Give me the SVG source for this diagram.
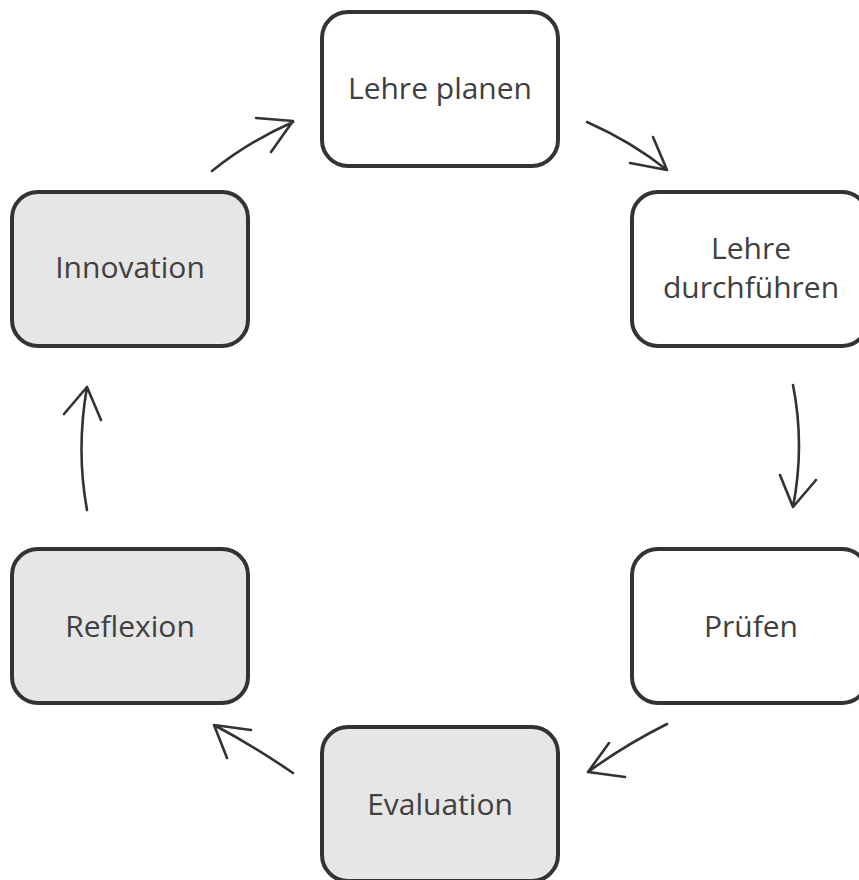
<svg xmlns="http://www.w3.org/2000/svg" width="859" height="880" viewBox="0 0 859 880">
<style>
.box{stroke:#333;stroke-width:4;}
.w{fill:#fff;}
.g{fill:#e6e6e6;}
.t{font-family:"Open Sans","DejaVu Sans",sans-serif;font-size:30px;fill:#404040;text-anchor:middle;}
.c{fill:none;stroke:#333;stroke-width:2.6;stroke-linecap:round;stroke-linejoin:round;}
</style>
<rect width="859" height="880" fill="#fff"/>
<g id="lehre-planen"><rect class="box w" x="322" y="12" width="236" height="154" rx="26"/><text class="t" x="440" y="99">Lehre planen</text></g>
<g id="lehre-durchfuehren"><rect class="box w" x="632" y="192" width="236" height="154" rx="26"/><text class="t" x="751" y="259">Lehre</text><text class="t" x="751" y="298">durchführen</text></g>
<g id="pruefen"><rect class="box w" x="632" y="549" width="236" height="154" rx="26"/><text class="t" x="751" y="637">Prüfen</text></g>
<g id="evaluation"><rect class="box g" x="322" y="727" width="236" height="154" rx="26"/><text class="t" x="440" y="815">Evaluation</text></g>
<g id="reflexion"><rect class="box g" x="12" y="549" width="236" height="154" rx="26"/><text class="t" x="130" y="637">Reflexion</text></g>
<g id="innovation"><rect class="box g" x="12" y="192" width="236" height="154" rx="26"/><text class="t" x="130" y="278">Innovation</text></g>
<g id="connectors">
<path class="c" d="M212,171 Q248,142 293,122 M256,118 L293,121 L271,152"/>
<path class="c" d="M587,122 Q632,142 667,170 M630,163 L667,170 L653,137"/>
<path class="c" d="M793,385 Q805,445 793,507 M780,475 L793,507 L816,480"/>
<path class="c" d="M667,724 Q625,745 588,772 M609,743 L588,772 L625,777"/>
<path class="c" d="M293,773 Q252,745 214,725 M251,730 L214,725 L227,758"/>
<path class="c" d="M87,510 Q76,450 87,387 M64,414 L87,387 L101,420"/>
</g>
</svg>
